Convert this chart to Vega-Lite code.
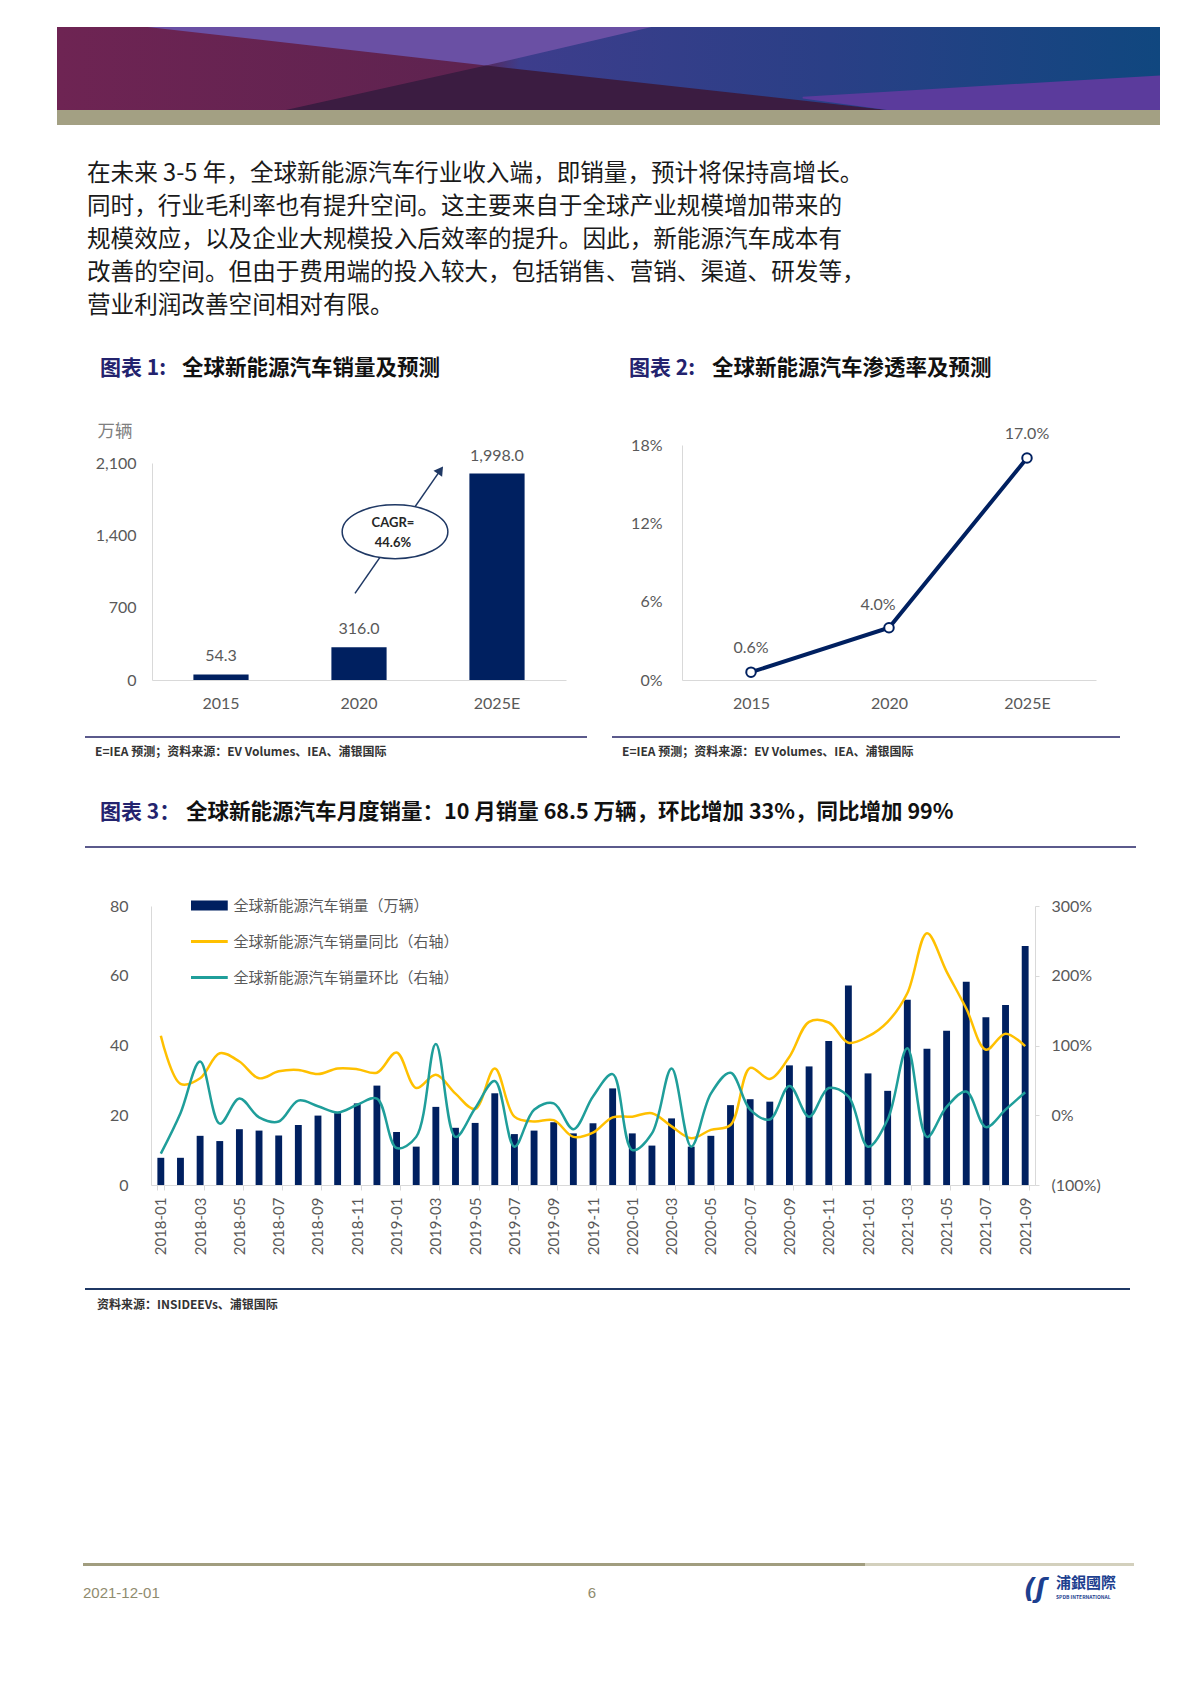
{
  "$schema": "https://vega.github.io/schema/vega-lite/v6.json",
  "padding": 0,
  "spacing": 0,
  "background": "white",
  "config": {"view": {"stroke": null}, "font": "Lato"},
  "datasets": {
    "annual": [
      {"year": "2015", "sales": 54.3},
      {"year": "2020", "sales": 316.0},
      {"year": "2025E", "sales": 1998.0}
    ],
    "pen": [
      {"year": "2015", "rate": 0.006},
      {"year": "2020", "rate": 0.04},
      {"year": "2025E", "rate": 0.17}
    ],
    "arrow": [{"u": 0.971, "val": 839}, {"u": 1.59, "val": 2031}],
    "arrowhead": [{"u": 1.59, "val": 2031}],
    "cagr": [{"u": 1.261, "val": 1435}],
    "cagrText": [{"u": 1.246, "val": 1519, "t": "CAGR="}, {"u": 1.246, "val": 1329, "t": "44.6%"}],
    "monthly": [
      {"month": "2018-01", "sales": 7.8, "yoy": 1.14, "mom": -0.55},
      {"month": "2018-02", "sales": 7.8, "yoy": 0.45, "mom": 0.03},
      {"month": "2018-03", "sales": 14.1, "yoy": 0.53, "mom": 0.77},
      {"month": "2018-04", "sales": 12.6, "yoy": 0.89, "mom": -0.12},
      {"month": "2018-05", "sales": 16.0, "yoy": 0.77, "mom": 0.24},
      {"month": "2018-06", "sales": 15.6, "yoy": 0.53, "mom": -0.03},
      {"month": "2018-07", "sales": 14.2, "yoy": 0.63, "mom": -0.09},
      {"month": "2018-08", "sales": 17.2, "yoy": 0.65, "mom": 0.21},
      {"month": "2018-09", "sales": 19.9, "yoy": 0.59, "mom": 0.13},
      {"month": "2018-10", "sales": 20.6, "yoy": 0.67, "mom": 0.04},
      {"month": "2018-11", "sales": 23.4, "yoy": 0.66, "mom": 0.15},
      {"month": "2018-12", "sales": 28.5, "yoy": 0.61, "mom": 0.24},
      {"month": "2019-01", "sales": 15.2, "yoy": 0.90, "mom": -0.47},
      {"month": "2019-02", "sales": 11.0, "yoy": 0.39, "mom": -0.31},
      {"month": "2019-03", "sales": 22.4, "yoy": 0.58, "mom": 1.02},
      {"month": "2019-04", "sales": 16.4, "yoy": 0.31, "mom": -0.31},
      {"month": "2019-05", "sales": 17.8, "yoy": 0.09, "mom": 0.10},
      {"month": "2019-06", "sales": 26.3, "yoy": 0.67, "mom": 0.49},
      {"month": "2019-07", "sales": 14.6, "yoy": -0.02, "mom": -0.45},
      {"month": "2019-08", "sales": 15.6, "yoy": -0.09, "mom": 0.08},
      {"month": "2019-09", "sales": 18.0, "yoy": -0.07, "mom": 0.17},
      {"month": "2019-10", "sales": 14.8, "yoy": -0.31, "mom": -0.20},
      {"month": "2019-11", "sales": 17.7, "yoy": -0.25, "mom": 0.27},
      {"month": "2019-12", "sales": 27.7, "yoy": -0.03, "mom": 0.59},
      {"month": "2020-01", "sales": 14.8, "yoy": -0.02, "mom": -0.50},
      {"month": "2020-02", "sales": 11.3, "yoy": 0.03, "mom": -0.26},
      {"month": "2020-03", "sales": 19.1, "yoy": -0.16, "mom": 0.67},
      {"month": "2020-04", "sales": 11.0, "yoy": -0.33, "mom": -0.45},
      {"month": "2020-05", "sales": 14.1, "yoy": -0.21, "mom": 0.31},
      {"month": "2020-06", "sales": 22.9, "yoy": -0.14, "mom": 0.61},
      {"month": "2020-07", "sales": 24.6, "yoy": 0.68, "mom": 0.08},
      {"month": "2020-08", "sales": 23.9, "yoy": 0.52, "mom": -0.06},
      {"month": "2020-09", "sales": 34.3, "yoy": 0.84, "mom": 0.42},
      {"month": "2020-10", "sales": 34.0, "yoy": 1.34, "mom": -0.02},
      {"month": "2020-11", "sales": 41.3, "yoy": 1.33, "mom": 0.39},
      {"month": "2020-12", "sales": 57.2, "yoy": 1.04, "mom": 0.27},
      {"month": "2021-01", "sales": 32.0, "yoy": 1.13, "mom": -0.45},
      {"month": "2021-02", "sales": 27.0, "yoy": 1.34, "mom": -0.06},
      {"month": "2021-03", "sales": 53.1, "yoy": 1.75, "mom": 0.96},
      {"month": "2021-04", "sales": 39.1, "yoy": 2.61, "mom": -0.31},
      {"month": "2021-05", "sales": 44.2, "yoy": 2.06, "mom": 0.12},
      {"month": "2021-06", "sales": 58.3, "yoy": 1.53, "mom": 0.34},
      {"month": "2021-07", "sales": 48.1, "yoy": 0.94, "mom": -0.17},
      {"month": "2021-08", "sales": 51.6, "yoy": 1.17, "mom": 0.08},
      {"month": "2021-09", "sales": 68.5, "yoy": 0.99, "mom": 0.33}
    ]
  },
  "vconcat": [
    {"width": 1200, "height": 27, "data": {"values": [{}]}, "mark": {"type": "rect", "opacity": 0}},
    {"hconcat": [
      {"width": 57, "height": 83, "data": {"values": [{}]}, "mark": {"type": "rect", "opacity": 0}},
      {"width": 1103, "height": 83,
       "layer": [
        {"data": {"values": [{}]}, "mark": {"type": "rect", "color": {"gradient": "linear", "stops": [
          {"offset": 0, "color": "#6e2453"}, {"offset": 0.38, "color": "#5e2350"}, {"offset": 0.42, "color": "#3d3d8c"},
          {"offset": 0.7, "color": "#2a3f86"}, {"offset": 1, "color": "#10477f"}]}}},
        {"data": {"values": [{"u": 0.082, "v1": 0, "v2": 0}, {"u": 0.389, "v1": 0, "v2": 0.464}, {"u": 0.539, "v1": 0, "v2": 0}]},
         "mark": {"type": "area", "color": "#6a50a4"},
         "encoding": {
          "x": {"field": "u", "type": "quantitative", "scale": {"domain": [0, 1], "nice": false, "zero": false}, "axis": null},
          "y": {"field": "v1", "type": "quantitative", "scale": {"domain": [0, 1], "reverse": true, "nice": false, "zero": false}, "axis": null},
          "y2": {"field": "v2"}}},
        {"data": {"values": [{"u": 0.2075, "v1": 1, "v2": 1}, {"u": 0.389, "v1": 0.464, "v2": 1}, {"u": 0.7526, "v1": 1, "v2": 1}]},
         "mark": {"type": "area", "color": "#3b1c41"},
         "encoding": {
          "x": {"field": "u", "type": "quantitative", "scale": {"domain": [0, 1], "nice": false, "zero": false}, "axis": null},
          "y": {"field": "v1", "type": "quantitative", "scale": {"domain": [0, 1], "reverse": true, "nice": false, "zero": false}, "axis": null},
          "y2": {"field": "v2"}}},
        {"data": {"values": [{"u": 0.676, "v1": 0.84, "v2": 0.86}, {"u": 0.7526, "v1": 0.779, "v2": 1}, {"u": 1, "v1": 0.583, "v2": 1}]},
         "mark": {"type": "area", "color": "#5b3b9c"},
         "encoding": {
          "x": {"field": "u", "type": "quantitative", "scale": {"domain": [0, 1], "nice": false, "zero": false}, "axis": null},
          "y": {"field": "v1", "type": "quantitative", "scale": {"domain": [0, 1], "reverse": true, "nice": false, "zero": false}, "axis": null},
          "y2": {"field": "v2"}}}
       ]}
    ], "spacing": 0, "bounds": "flush"},
    {"hconcat": [
      {"width": 57, "height": 15, "data": {"values": [{}]}, "mark": {"type": "rect", "opacity": 0}},
      {"width": 1103, "height": 15, "data": {"values": [{}]}, "mark": {"type": "rect", "color": "#a3a083"}}
    ], "spacing": 0, "bounds": "flush"},
    {"width": 1200, "height": 32, "data": {"values": [{}]}, "mark": {"type": "rect", "opacity": 0}},
    {"hconcat": [
      {"width": 87, "height": 165, "data": {"values": [{}]}, "mark": {"type": "rect", "opacity": 0}},
      {"width": 1000, "height": 165,
       "data": {"values": [
        {"line": 1, "t": "在未来 3-5 年，全球新能源汽车行业收入端，即销量，预计将保持高增长。"},
        {"line": 2, "t": "同时，行业毛利率也有提升空间。这主要来自于全球产业规模增加带来的"},
        {"line": 3, "t": "规模效应，以及企业大规模投入后效率的提升。因此，新能源汽车成本有"},
        {"line": 4, "t": "改善的空间。但由于费用端的投入较大，包括销售、营销、渠道、研发等，"},
        {"line": 5, "t": "营业利润改善空间相对有限。"}
       ]},
       "mark": {"type": "text", "align": "left", "baseline": "middle", "font": "Noto Sans CJK SC", "fontSize": 23.6, "color": "#1a1a1a"},
       "encoding": {
        "text": {"field": "t"},
        "x": {"datum": 0, "type": "quantitative", "scale": {"domain": [0, 1]}, "axis": null},
        "y": {"field": "line", "type": "ordinal", "scale": {"type": "point", "padding": 0.5}, "axis": null}
       }}
    ], "spacing": 0, "bounds": "flush"},
    {"width": 1200, "height": 35, "data": {"values": [{}]}, "mark": {"type": "rect", "opacity": 0}},
    {"hconcat": [
      {"width": 100, "height": 24, "data": {"values": [{}]}, "mark": {"type": "rect", "opacity": 0}},
      {"width": 82, "height": 24, "data": {"values": [{"t": "图表 1:"}]},
       "mark": {"type": "text", "align": "left", "baseline": "middle", "font": "Noto Sans CJK SC", "fontSize": 21, "fontWeight": "bold", "color": "#23236e"},
       "encoding": {"text": {"field": "t"}, "x": {"datum": 0, "type": "quantitative", "scale": {"domain": [0, 1]}, "axis": null}, "y": {"datum": 0.5, "type": "quantitative", "scale": {"domain": [0, 1]}, "axis": null}}},
      {"width": 447, "height": 24, "data": {"values": [{"t": "全球新能源汽车销量及预测"}]},
       "mark": {"type": "text", "align": "left", "baseline": "middle", "font": "Noto Sans CJK SC", "fontSize": 21.5, "fontWeight": "bold", "color": "#111111"},
       "encoding": {"text": {"field": "t"}, "x": {"datum": 0, "type": "quantitative", "scale": {"domain": [0, 1]}, "axis": null}, "y": {"datum": 0.5, "type": "quantitative", "scale": {"domain": [0, 1]}, "axis": null}}},
      {"width": 83, "height": 24, "data": {"values": [{"t": "图表 2:"}]},
       "mark": {"type": "text", "align": "left", "baseline": "middle", "font": "Noto Sans CJK SC", "fontSize": 21, "fontWeight": "bold", "color": "#23236e"},
       "encoding": {"text": {"field": "t"}, "x": {"datum": 0, "type": "quantitative", "scale": {"domain": [0, 1]}, "axis": null}, "y": {"datum": 0.5, "type": "quantitative", "scale": {"domain": [0, 1]}, "axis": null}}},
      {"width": 450, "height": 24, "data": {"values": [{"t": "全球新能源汽车渗透率及预测"}]},
       "mark": {"type": "text", "align": "left", "baseline": "middle", "font": "Noto Sans CJK SC", "fontSize": 21.5, "fontWeight": "bold", "color": "#111111"},
       "encoding": {"text": {"field": "t"}, "x": {"datum": 0, "type": "quantitative", "scale": {"domain": [0, 1]}, "axis": null}, "y": {"datum": 0.5, "type": "quantitative", "scale": {"domain": [0, 1]}, "axis": null}}}
    ], "spacing": 0, "bounds": "flush"},
    {"width": 1200, "height": 39, "data": {"values": [{}]}, "mark": {"type": "rect", "opacity": 0}},
    {"hconcat": [
      {"width": 152, "height": 316, "data": {"values": [{}]}, "mark": {"type": "rect", "opacity": 0}},
      {"width": 414, "height": 316,
       "layer": [
        {"data": {"name": "annual"}, "mark": {"type": "bar", "color": "#002060"},
         "encoding": {
          "x": {"field": "year", "type": "ordinal", "scale": {"type": "band", "paddingInner": 0.6, "paddingOuter": 0.3},
                "axis": {"title": null, "labelAngle": 0, "labelFont": "Lato", "labelFontSize": 16, "labelColor": "#595959", "labelPadding": 15, "ticks": false, "tickSize": 0, "domainColor": "#d9d9d9", "offset": -56}},
          "y": {"field": "sales", "type": "quantitative", "scale": {"domain": [0, 2100], "range": [260, 43], "nice": false},
                "axis": {"values": [0, 700, 1400, 2100], "labelExpr": "format(datum.value, ',')", "grid": false, "ticks": false, "tickSize": 0, "labelPadding": 16,
                         "labelFont": "Lato", "labelFontSize": 16, "labelColor": "#595959", "domainColor": "#d9d9d9",
                         "title": "万辆", "titleAngle": 0, "titleX": -55, "titleY": 11, "titleAlign": "left", "titleBaseline": "middle",
                         "titleFont": "Noto Sans CJK SC", "titleFontSize": 17.5, "titleFontWeight": "normal", "titleColor": "#7f7f7f"}}
         }},
        {"data": {"name": "annual"}, "mark": {"type": "text", "dy": -18, "font": "Lato", "fontSize": 16, "color": "#595959"},
         "encoding": {
          "x": {"field": "year", "type": "ordinal", "scale": {"type": "band", "paddingInner": 0.6, "paddingOuter": 0.3}, "axis": null},
          "y": {"field": "sales", "type": "quantitative"},
          "text": {"field": "sales", "format": ",.1f"}}},
        {"data": {"name": "arrow"}, "mark": {"type": "line", "color": "#1f3864", "strokeWidth": 1.5},
         "encoding": {
          "x": {"field": "u", "type": "quantitative", "scale": {"domain": [-0.5, 2.5], "nice": false, "zero": false}, "axis": null},
          "y": {"field": "val", "type": "quantitative"}}},
        {"data": {"name": "arrowhead"}, "mark": {"type": "point", "shape": "triangle-up", "angle": 35, "size": 110, "filled": true, "color": "#1f3864", "opacity": 1},
         "encoding": {
          "x": {"field": "u", "type": "quantitative", "scale": {"domain": [-0.5, 2.5], "nice": false, "zero": false}, "axis": null},
          "y": {"field": "val", "type": "quantitative"}}},
        {"data": {"name": "cagr"}, "mark": {"type": "point", "shape": "M -1 0 C -1 -0.2817 -0.5523 -0.51 0 -0.51 C 0.5523 -0.51 1 -0.2817 1 0 C 1 0.2817 0.5523 0.51 0 0.51 C -0.5523 0.51 -1 0.2817 -1 0 Z", "size": 11172, "filled": true, "fill": "white", "stroke": "#1f3864", "strokeWidth": 1.5, "opacity": 1},
         "encoding": {
          "x": {"field": "u", "type": "quantitative", "scale": {"domain": [-0.5, 2.5], "nice": false, "zero": false}, "axis": null},
          "y": {"field": "val", "type": "quantitative"}}},
        {"data": {"name": "cagrText"}, "mark": {"type": "text", "font": "Lato", "fontSize": 13, "fontWeight": "bold", "color": "#262626", "baseline": "middle"},
         "encoding": {
          "x": {"field": "u", "type": "quantitative", "scale": {"domain": [-0.5, 2.5], "nice": false, "zero": false}, "axis": null},
          "y": {"field": "val", "type": "quantitative"},
          "text": {"field": "t"}}}
       ],
       "resolve": {"scale": {"x": "independent"}}},
      {"width": 116, "height": 316, "data": {"values": [{}]}, "mark": {"type": "rect", "opacity": 0}},
      {"width": 414, "height": 316,
       "data": {"name": "pen"},
       "layer": [
        {"mark": {"type": "line", "color": "#002060", "strokeWidth": 4},
         "encoding": {
          "x": {"field": "year", "type": "ordinal", "scale": {"type": "point", "padding": 0.5},
                "axis": {"title": null, "labelAngle": 0, "labelFont": "Lato", "labelFontSize": 16, "labelColor": "#595959", "labelPadding": 15, "ticks": false, "tickSize": 0, "domainColor": "#d9d9d9", "offset": -56}},
          "y": {"field": "rate", "type": "quantitative", "scale": {"domain": [0, 0.18], "range": [260, 25], "nice": false},
                "axis": {"values": [0, 0.06, 0.12, 0.18], "labelExpr": "format(datum.value, '.0%')", "title": null, "grid": false, "ticks": false, "tickSize": 0, "labelPadding": 20,
                         "labelFont": "Lato", "labelFontSize": 16, "labelColor": "#595959", "domainColor": "#d9d9d9"}}}},
        {"mark": {"type": "point", "filled": true, "fill": "white", "stroke": "#002060", "strokeWidth": 2, "size": 90, "opacity": 1},
         "encoding": {
          "x": {"field": "year", "type": "ordinal"},
          "y": {"field": "rate", "type": "quantitative"}}},
        {"transform": [{"filter": "datum.year !== '2020'"}],
         "mark": {"type": "text", "dy": -24, "font": "Lato", "fontSize": 16, "color": "#595959"},
         "encoding": {
          "x": {"field": "year", "type": "ordinal"},
          "y": {"field": "rate", "type": "quantitative"},
          "text": {"field": "rate", "format": ".1%"}}},
        {"transform": [{"filter": "datum.year === '2020'"}],
         "mark": {"type": "text", "dy": -23, "dx": -11, "font": "Lato", "fontSize": 16, "color": "#595959"},
         "encoding": {
          "x": {"field": "year", "type": "ordinal"},
          "y": {"field": "rate", "type": "quantitative"},
          "text": {"field": "rate", "format": ".1%"}}}
       ]}
    ], "spacing": 0, "bounds": "flush"},
    {"hconcat": [
      {"width": 85, "height": 2, "data": {"values": [{}]}, "mark": {"type": "rect", "opacity": 0}},
      {"width": 502, "height": 2, "data": {"values": [{}]}, "mark": {"type": "rect", "color": "#5b5a8c"}},
      {"width": 25, "height": 2, "data": {"values": [{}]}, "mark": {"type": "rect", "opacity": 0}},
      {"width": 508, "height": 2, "data": {"values": [{}]}, "mark": {"type": "rect", "color": "#5b5a8c"}}
    ], "spacing": 0, "bounds": "flush"},
    {"hconcat": [
      {"width": 95, "height": 28, "data": {"values": [{}]}, "mark": {"type": "rect", "opacity": 0}},
      {"width": 527, "height": 28, "data": {"values": [{"t": "E=IEA 预测；资料来源：EV Volumes、IEA、浦银国际"}]},
       "mark": {"type": "text", "align": "left", "baseline": "middle", "font": "Noto Sans CJK SC", "fontSize": 12, "fontWeight": "bold", "color": "#333333"},
       "encoding": {"text": {"field": "t"}, "x": {"datum": 0, "type": "quantitative", "scale": {"domain": [0, 1]}, "axis": null}, "y": {"datum": 0.5, "type": "quantitative", "scale": {"domain": [0, 1]}, "axis": null}}},
      {"width": 500, "height": 28, "data": {"values": [{"t": "E=IEA 预测；资料来源：EV Volumes、IEA、浦银国际"}]},
       "mark": {"type": "text", "align": "left", "baseline": "middle", "font": "Noto Sans CJK SC", "fontSize": 12, "fontWeight": "bold", "color": "#333333"},
       "encoding": {"text": {"field": "t"}, "x": {"datum": 0, "type": "quantitative", "scale": {"domain": [0, 1]}, "axis": null}, "y": {"datum": 0.5, "type": "quantitative", "scale": {"domain": [0, 1]}, "axis": null}}}
    ], "spacing": 0, "bounds": "flush"},
    {"width": 1200, "height": 35, "data": {"values": [{}]}, "mark": {"type": "rect", "opacity": 0}},
    {"hconcat": [
      {"width": 100, "height": 24, "data": {"values": [{}]}, "mark": {"type": "rect", "opacity": 0}},
      {"width": 86, "height": 24, "data": {"values": [{"t": "图表 3："}]},
       "mark": {"type": "text", "align": "left", "baseline": "middle", "font": "Noto Sans CJK SC", "fontSize": 21, "fontWeight": "bold", "color": "#23236e"},
       "encoding": {"text": {"field": "t"}, "x": {"datum": 0, "type": "quantitative", "scale": {"domain": [0, 1]}, "axis": null}, "y": {"datum": 0.5, "type": "quantitative", "scale": {"domain": [0, 1]}, "axis": null}}},
      {"width": 900, "height": 24, "data": {"values": [{"t": "全球新能源汽车月度销量：10 月销量 68.5 万辆，环比增加 33%，同比增加 99%"}]},
       "mark": {"type": "text", "align": "left", "baseline": "middle", "font": "Noto Sans CJK SC", "fontSize": 21.5, "fontWeight": "bold", "color": "#111111"},
       "encoding": {"text": {"field": "t"}, "x": {"datum": 0, "type": "quantitative", "scale": {"domain": [0, 1]}, "axis": null}, "y": {"datum": 0.5, "type": "quantitative", "scale": {"domain": [0, 1]}, "axis": null}}}
    ], "spacing": 0, "bounds": "flush"},
    {"width": 1200, "height": 21, "data": {"values": [{}]}, "mark": {"type": "rect", "opacity": 0}},
    {"hconcat": [
      {"width": 85, "height": 2, "data": {"values": [{}]}, "mark": {"type": "rect", "opacity": 0}},
      {"width": 1051, "height": 2, "data": {"values": [{}]}, "mark": {"type": "rect", "color": "#5b5a8c"}}
    ], "spacing": 0, "bounds": "flush"},
    {"width": 1200, "height": 48, "data": {"values": [{}]}, "mark": {"type": "rect", "opacity": 0}},
    {"hconcat": [
      {"width": 151, "height": 392, "data": {"values": [{}]}, "mark": {"type": "rect", "opacity": 0}},
      {"width": 884, "height": 392,
       "data": {"name": "monthly"},
       "layer": [
        {"mark": {"type": "bar"},
         "encoding": {
          "x": {"field": "month", "type": "ordinal", "scale": {"type": "band", "paddingInner": 0.65, "paddingOuter": 0.325},
                "axis": {"title": null, "labelAngle": -90, "labelFont": "Lato", "labelFontSize": 15, "labelColor": "#595959", "labelPadding": 7,
                         "tickBand": "extent", "tickColor": "#d9d9d9", "tickSize": 5, "domainColor": "#d9d9d9", "offset": -103,
                         "values": ["2018-01", "2018-03", "2018-05", "2018-07", "2018-09", "2018-11", "2019-01", "2019-03", "2019-05", "2019-07", "2019-09", "2019-11", "2020-01", "2020-03", "2020-05", "2020-07", "2020-09", "2020-11", "2021-01", "2021-03", "2021-05", "2021-07", "2021-09"]}},
          "y": {"field": "sales", "type": "quantitative", "scale": {"domain": [0, 80], "range": [289, 10], "nice": false},
                "axis": {"values": [0, 20, 40, 60, 80], "title": null, "grid": false, "ticks": false, "tickSize": 0, "labelPadding": 23,
                         "labelFont": "Lato", "labelFontSize": 16, "labelColor": "#595959", "domainColor": "#d9d9d9"}},
          "color": {"datum": "全球新能源汽车销量（万辆）", "type": "nominal",
                    "scale": {"domain": ["全球新能源汽车销量（万辆）", "全球新能源汽车销量同比（右轴）", "全球新能源汽车销量环比（右轴）"], "range": ["#002060", "#FFC000", "#1f9e9a"]},
                    "legend": {"orient": "none", "legendX": 191, "legendY": 895.5, "direction": "vertical", "title": null,
                               "symbolType": "M -0.5 0 H 1.5", "symbolSize": 1521, "labelFont": "Noto Sans CJK SC", "labelFontSize": 15, "labelColor": "#595959",
                               "labelOffset": 27.5, "labelLimit": 400, "rowPadding": 16, "clipHeight": 20, "padding": 0,
                               "encode": {"symbols": {"update": {
                                 "stroke": {"scale": "color", "field": "value"},
                                 "strokeWidth": {"signal": "datum.value === '全球新能源汽车销量（万辆）' ? 10 : 3"},
                                 "fill": {"value": "transparent"}}}}}}
         }},
        {"layer": [
          {"mark": {"type": "line", "interpolate": "catmull-rom", "strokeWidth": 2.5},
           "encoding": {
            "x": {"field": "month", "type": "ordinal"},
            "y": {"field": "yoy", "type": "quantitative", "scale": {"domain": [-1, 3], "range": [289, 10], "nice": false},
                  "axis": {"orient": "right", "values": [-1, 0, 1, 2, 3], "title": null, "grid": false,
                           "labelExpr": "datum.value < 0 ? '(' + format(-datum.value, '.0%') + ')' : format(datum.value, '.0%')",
                           "ticks": true, "tickSize": 4, "tickColor": "#d9d9d9", "domainColor": "#d9d9d9", "labelPadding": 12,
                           "labelFont": "Lato", "labelFontSize": 16, "labelColor": "#595959"}},
            "color": {"datum": "全球新能源汽车销量同比（右轴）", "type": "nominal"}}},
          {"mark": {"type": "line", "interpolate": "catmull-rom", "strokeWidth": 2.5},
           "encoding": {
            "x": {"field": "month", "type": "ordinal"},
            "y": {"field": "mom", "type": "quantitative"},
            "color": {"datum": "全球新能源汽车销量环比（右轴）", "type": "nominal"}}}
        ]}
       ],
       "resolve": {"scale": {"y": "independent"}}}
    ], "spacing": 0, "bounds": "flush"},
    {"hconcat": [
      {"width": 85, "height": 2, "data": {"values": [{}]}, "mark": {"type": "rect", "opacity": 0}},
      {"width": 1045, "height": 2, "data": {"values": [{}]}, "mark": {"type": "rect", "color": "#1f3864"}}
    ], "spacing": 0, "bounds": "flush"},
    {"hconcat": [
      {"width": 97, "height": 30, "data": {"values": [{}]}, "mark": {"type": "rect", "opacity": 0}},
      {"width": 600, "height": 30, "data": {"values": [{"t": "资料来源：INSIDEEVs、浦银国际"}]},
       "mark": {"type": "text", "align": "left", "baseline": "middle", "font": "Noto Sans CJK SC", "fontSize": 12, "fontWeight": "bold", "color": "#333333"},
       "encoding": {"text": {"field": "t"}, "x": {"datum": 0, "type": "quantitative", "scale": {"domain": [0, 1]}, "axis": null}, "y": {"datum": 0.5, "type": "quantitative", "scale": {"domain": [0, 1]}, "axis": null}}}
    ], "spacing": 0, "bounds": "flush"},
    {"width": 1200, "height": 243, "data": {"values": [{}]}, "mark": {"type": "rect", "opacity": 0}},
    {"hconcat": [
      {"width": 83, "height": 3, "data": {"values": [{}]}, "mark": {"type": "rect", "opacity": 0}},
      {"width": 782, "height": 3, "data": {"values": [{}]}, "mark": {"type": "rect", "color": "#a19d7f"}},
      {"width": 269, "height": 3, "data": {"values": [{}]}, "mark": {"type": "rect", "color": "#d3d0bd"}}
    ], "spacing": 0, "bounds": "flush"},
    {"width": 1200, "height": 8, "data": {"values": [{}]}, "mark": {"type": "rect", "opacity": 0}},
    {"hconcat": [
      {"width": 83, "height": 38, "data": {"values": [{}]}, "mark": {"type": "rect", "opacity": 0}},
      {"width": 499, "height": 38, "data": {"values": [{"t": "2021-12-01"}]},
       "mark": {"type": "text", "align": "left", "baseline": "middle", "font": "Liberation Sans Narrow, Liberation Sans", "fontSize": 15, "color": "#8f8b6e"},
       "encoding": {"text": {"field": "t"}, "x": {"datum": 0, "type": "quantitative", "scale": {"domain": [0, 1]}, "axis": null}, "y": {"datum": 0.5, "type": "quantitative", "scale": {"domain": [0, 1]}, "axis": null}}},
      {"width": 20, "height": 38, "data": {"values": [{"t": "6"}]},
       "mark": {"type": "text", "align": "center", "baseline": "middle", "font": "Liberation Sans Narrow, Liberation Sans", "fontSize": 15, "color": "#8f8b6e"},
       "encoding": {"text": {"field": "t"}, "x": {"datum": 0.5, "type": "quantitative", "scale": {"domain": [0, 1]}, "axis": null}, "y": {"datum": 0.5, "type": "quantitative", "scale": {"domain": [0, 1]}, "axis": null}}},
      {"width": 412, "height": 38, "data": {"values": [{}]}, "mark": {"type": "rect", "opacity": 0}},
      {"width": 42, "height": 38, "data": {"values": [{"t": "(ʃ"}]},
       "mark": {"type": "text", "align": "center", "baseline": "middle", "font": "DejaVu Sans", "fontSize": 26, "fontWeight": "bold", "fontStyle": "italic", "color": "#1d3f8f"},
       "encoding": {"text": {"field": "t"}, "x": {"datum": 0.5, "type": "quantitative", "scale": {"domain": [0, 1]}, "axis": null}, "y": {"datum": 0.4, "type": "quantitative", "scale": {"domain": [0, 1], "reverse": true}, "axis": null}}},
      {"width": 70, "height": 38,
       "data": {"values": [{"t": "浦銀國際", "p": 0.237, "s": "big"}, {"t": "SPDB INTERNATIONAL", "p": 0.605, "s": "small"}]},
       "mark": {"type": "text", "align": "left", "baseline": "middle", "font": "Noto Sans CJK TC", "fontWeight": "bold", "color": "#1d3f8f"},
       "encoding": {
        "text": {"field": "t"},
        "size": {"field": "s", "type": "nominal", "scale": {"domain": ["big", "small"], "range": [15, 5]}, "legend": null},
        "x": {"datum": 0, "type": "quantitative", "scale": {"domain": [0, 1]}, "axis": null},
        "y": {"field": "p", "type": "quantitative", "scale": {"domain": [0, 1], "reverse": true}, "axis": null}}}
    ], "spacing": 0, "bounds": "flush"},
    {"width": 1200, "height": 86, "data": {"values": [{}]}, "mark": {"type": "rect", "opacity": 0}}
  ]
}
